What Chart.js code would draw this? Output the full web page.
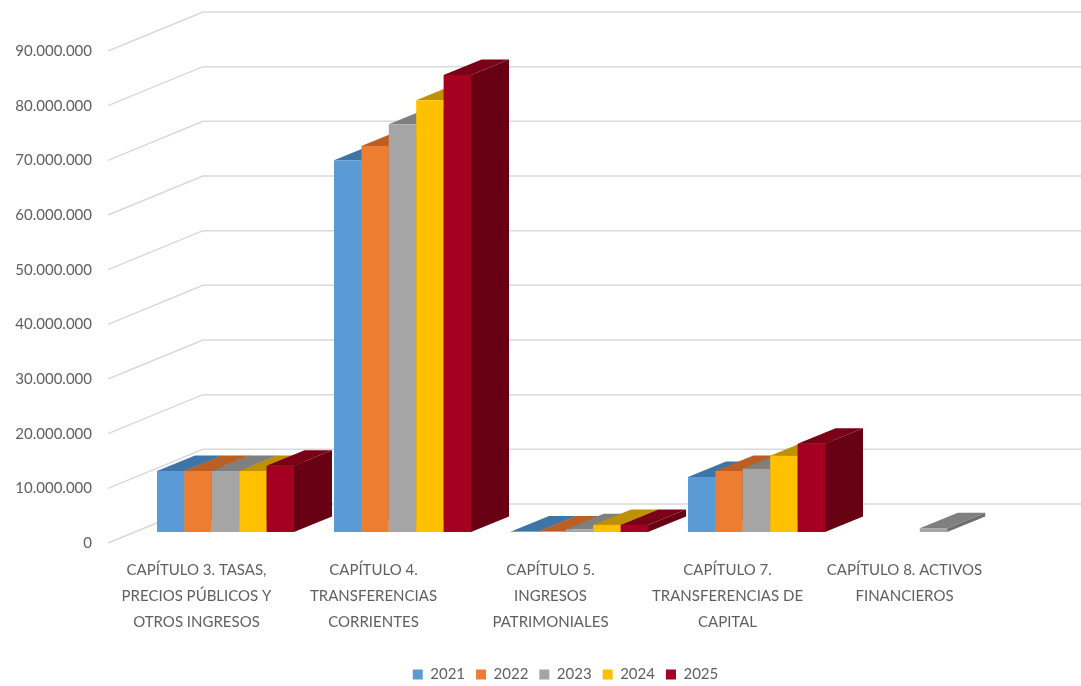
<!DOCTYPE html>
<html>
<head>
<meta charset="utf-8">
<script src="https://cdn.jsdelivr.net/npm/chart.js@4"></script>
<style>
  html, body { margin: 0; padding: 0; background: #fff; }
  #wrap { width: 1081px; height: 686px; }
</style>
</head>
<body>
<div id="wrap"><canvas id="ingresosChart"></canvas></div>
<script>
  var categories = [
    ['CAPÍTULO 3. TASAS,', 'PRECIOS PÚBLICOS Y', 'OTROS INGRESOS'],
    ['CAPÍTULO 4.', 'TRANSFERENCIAS', 'CORRIENTES'],
    ['CAPÍTULO 5.', 'INGRESOS', 'PATRIMONIALES'],
    ['CAPÍTULO 7.', 'TRANSFERENCIAS DE', 'CAPITAL'],
    ['CAPÍTULO 8. ACTIVOS', 'FINANCIEROS']
  ];
  var years = ['2021', '2022', '2023', '2024', '2025'];

  var values2021 = [11180000, 68000000, 100000, 10080000, null];
  var values2022 = [11180000, 70600000, 100000, 11180000, null];
  var values2023 = [11180000, 74600000, 500000, 11550000, 700000];
  var values2024 = [11180000, 79000000, 1300000, 13930000, null];
  var values2025 = [12100000, 83600000, 1300000, 16130000, null];

  var frontColors = ['#5B9BD5', '#ED7D31', '#A5A5A5', '#FFC000', '#A50021'];
  var topColors = ['#3F74A6', '#BC5F22', '#7F7F7F', '#BF9000', '#7A0018'];
  var sideColors = ['#37648F', '#A35219', '#6E6E6E', '#A67D00', '#680014'];

  var allValues = [values2021, values2022, values2023, values2024, values2025];

  // walls of the fake 3d box, bars stand a bit inside the floor
  var wallX = 95, wallY = -39;
  var barShiftX = 29, barShiftY = -11;
  var depthX = 38, depthY = -15.5;
  var gridColor = '#D9D9D9';
  var textColor = '#5F5F5F';

  function drawFaces(ctx, meta, i) {
    meta.data.forEach(function(bar, n) {
      if (allValues[i][n] === null) return;
      var p = bar.getProps(['x', 'y', 'base', 'width'], true);
      var l = p.x - p.width / 2, r = p.x + p.width / 2;
      ctx.fillStyle = sideColors[i];
      ctx.beginPath();
      ctx.moveTo(r, p.y);
      ctx.lineTo(r + depthX, p.y + depthY);
      ctx.lineTo(r + depthX, p.base + depthY);
      ctx.lineTo(r, p.base);
      ctx.closePath();
      ctx.fill();
      ctx.fillStyle = topColors[i];
      ctx.beginPath();
      ctx.moveTo(l, p.y);
      ctx.lineTo(l + depthX, p.y + depthY);
      ctx.lineTo(r + depthX, p.y + depthY);
      ctx.lineTo(r, p.y);
      ctx.closePath();
      ctx.fill();
    });
  }

  var walls3d = {
    id: 'walls3d',
    beforeDraw: function(chart) {
      var ctx = chart.ctx;
      ctx.save();
      ctx.fillStyle = '#fff';
      ctx.fillRect(0, 0, chart.width, chart.height);
      ctx.restore();
    },
    afterLayout: function(chart) {
      // legend sits right of centre in the original
      chart.legend.left += 69;
      chart.legend.right += 69;
      chart.legend.top = 656;
    },
    beforeDatasetsDraw: function(chart) {
      var ctx = chart.ctx, area = chart.chartArea, y = chart.scales.y;
      ctx.save();
      ctx.strokeStyle = gridColor;
      ctx.lineWidth = 1.5;
      y.ticks.forEach(function(t) {
        var py = y.getPixelForValue(t.value);
        ctx.beginPath();
        ctx.moveTo(area.left, py);
        ctx.lineTo(area.left + wallX, py + wallY);
        ctx.lineTo(area.right + wallX, py + wallY);
        ctx.stroke();
      });
      ctx.restore();

      // paint left to right so each bar covers the side of the one before
      ctx.save();
      ctx.translate(barShiftX, barShiftY);
      years.forEach(function(year, i) {
        var meta = chart.getDatasetMeta(i);
        drawFaces(ctx, meta, i);
        meta.controller.draw();
      });
      ctx.restore();
    },
    beforeDatasetDraw: function() {
      return false;
    }
  };

  var datasets = years.map(function(year, i) {
    return {
      label: year,
      data: allValues[i],
      backgroundColor: frontColors[i],
      borderWidth: 0,
      categoryPercentage: 0.774,
      barPercentage: 1
    };
  });

  var ctx = document.getElementById('ingresosChart').getContext('2d');
  var ingresosChart = new Chart(ctx, {
    type: 'bar',
    data: { labels: categories, datasets: datasets },
    plugins: [walls3d],
    options: {
      responsive: true,
      maintainAspectRatio: false,
      animation: false,
      layout: { padding: { top: 51, right: 88, left: 0, bottom: 0 } },
      plugins: {
        tooltip: { enabled: false },
        legend: {
          position: 'bottom',
          labels: {
            boxWidth: 10,
            boxHeight: 10,
            padding: 11,
            color: textColor,
            font: { family: 'Lato', size: 15 }
          }
        }
      },
      scales: {
        x: {
          grid: { display: false },
          border: { display: false },
          afterFit: function(scale) { scale.height = 107; },
          ticks: {
            autoSkip: false,
            maxRotation: 0,
            minRotation: 0,
            padding: 6,
            color: textColor,
            font: { family: 'Lato', size: 15, lineHeight: 1.73 }
          }
        },
        y: {
          min: 0,
          max: 90000000,
          grid: { display: false },
          border: { display: false },
          afterFit: function(scale) { scale.width = 108; },
          ticks: {
            stepSize: 10000000,
            padding: 8,
            color: textColor,
            font: { family: 'Lato', size: 15 },
            callback: function(v) {
              return String(v).replace(/\B(?=(\d{3})+(?!\d))/g, '.');
            }
          }
        }
      }
    }
  });
</script>
</body>
</html>
